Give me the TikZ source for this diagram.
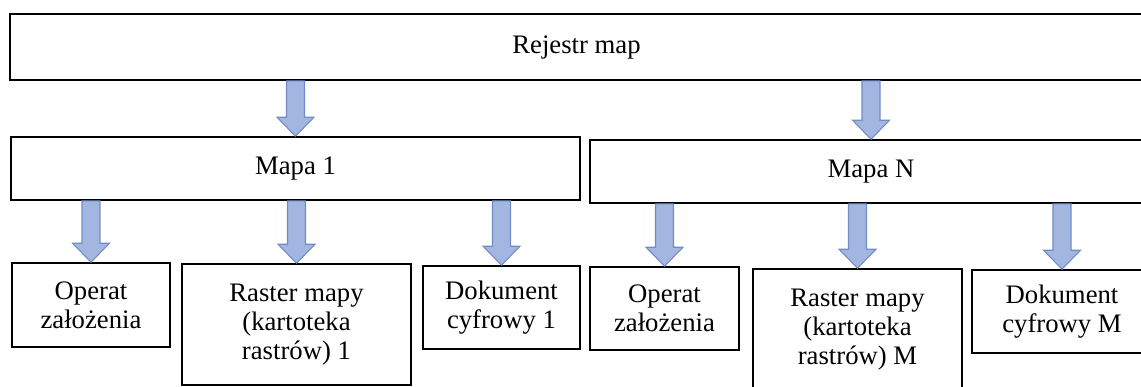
\documentclass[tikz,border=0pt]{standalone}
\usepackage{fontspec}
\setmainfont{Liberation Serif}
\usetikzlibrary{calc}

\definecolor{arrowfill}{RGB}{162,182,224}
\definecolor{arrowline}{RGB}{112,140,198}

\tikzset{
    box/.style={draw, line width=0.9pt, inner sep=0pt, align=center},
    fatarrow/.style={draw=arrowline, fill=arrowfill, line width=0.6pt,
        to path={let \p1=(\tikztostart), \p2=(\tikztotarget) in
            (\x1-0.18cm, \y1) -- (\x1-0.18cm, \y2+0.38cm) -- (\x1-0.37cm, \y2+0.38cm)
            -- (\x1, \y2) -- (\x1+0.37cm, \y2+0.38cm) -- (\x1+0.18cm, \y2+0.38cm)
            -- (\x1+0.18cm, \y1) -- cycle}}
}

\begin{document}
\begin{tikzpicture}[x=0.02cm, y=-0.02cm, font=\fontsize{15.2}{16.5}\selectfont]
    \useasboundingbox (0, 0) rectangle (1141, 386);
    \path
    (576.5, 47) node[box, minimum width=22.66cm, minimum height=1.32cm] (reg) {Rejestr map}
    (295.5, 168.5) node[box, minimum width=11.38cm, minimum height=1.26cm] (map1) {Mapa 1}
    (871, 171.5) node[box, minimum width=11.24cm, minimum height=1.26cm] (mapN) {Mapa N};
    \path
    (91, 305) node[box, minimum width=3.16cm, minimum height=1.68cm] (op1) {Operat\\założenia}
    (296.5, 324.5) node[box, minimum width=4.58cm, minimum height=2.42cm] (ra1) {Raster mapy\\(kartoteka\\rastrów) 1}
    (501.5, 307.5) node[box, minimum width=3.14cm, minimum height=1.66cm] (do1) {Dokument\\cyfrowy 1}
    (664.5, 308.5) node[box, minimum width=2.98cm, minimum height=1.66cm] (opM) {Operat\\założenia}
    (857.5, 329.5) node[box, minimum width=4.18cm, minimum height=2.42cm] (raM) {Raster mapy\\(kartoteka\\rastrów) M}
    (1062, 311.5) node[box, minimum width=3.6cm, minimum height=1.66cm] (doM) {Dokument\\cyfrowy M};
    % arrows
    \draw[fatarrow] (map1.north |- reg.south) to (map1.north);
    \draw[fatarrow] (mapN.north |- reg.south) to (mapN.north);
    \foreach \leaf in {op1, ra1, do1}
        \draw[fatarrow] (\leaf.north |- map1.south) to (\leaf.north);
    \foreach \leaf in {opM, raM, doM}
        \draw[fatarrow] (\leaf.north |- mapN.south) to (\leaf.north);
\end{tikzpicture}
\end{document}
